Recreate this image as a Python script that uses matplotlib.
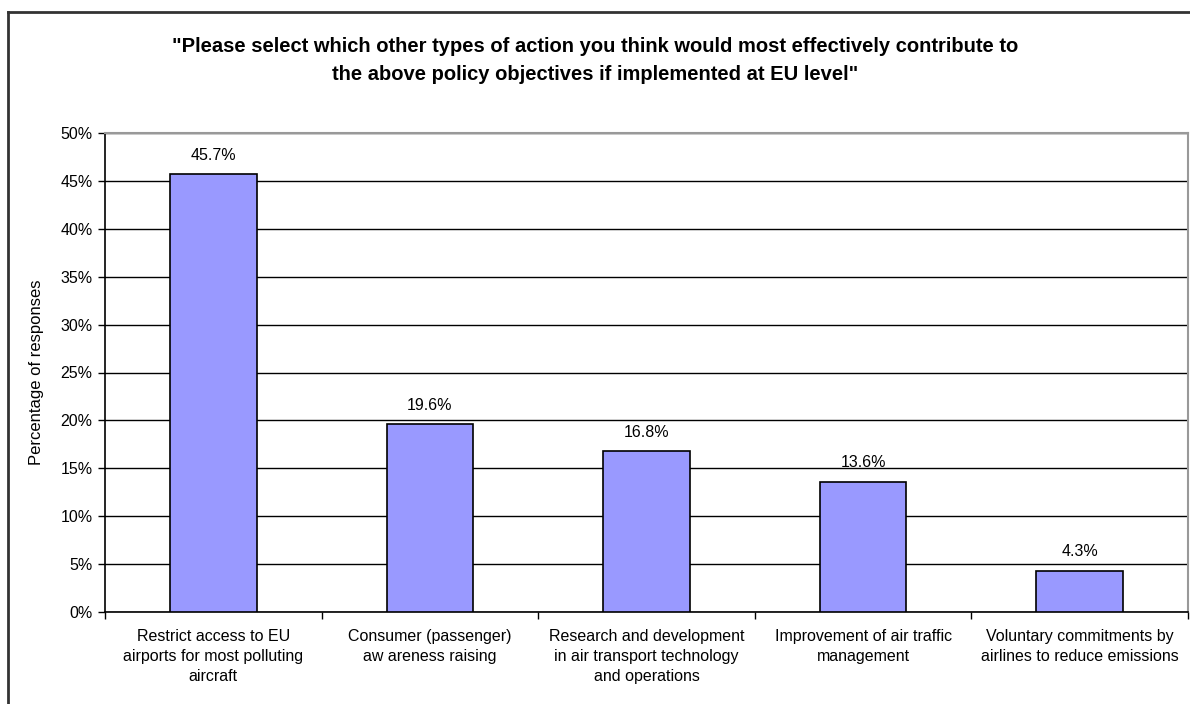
import matplotlib.pyplot as plt
from matplotlib.lines import Line2D
import numpy as np

plt.rcParams['font.family'] = ['Liberation Sans', 'DejaVu Sans']

categories = [
    "Restrict access to EU\nairports for most polluting\naircraft",
    "Consumer (passenger)\naw areness raising",
    "Research and development\nin air transport technology\nand operations",
    "Improvement of air traffic\nmanagement",
    "Voluntary commitments by\nairlines to reduce emissions",
]
values = [45.7, 19.6, 16.8, 13.6, 4.3]
value_labels = ["45.7%", "19.6%", "16.8%", "13.6%", "4.3%"]
yticks = [0, 5, 10, 15, 20, 25, 30, 35, 40, 45, 50]
title = ('"Please select which other types of action you think would most effectively contribute to\n'
         'the above policy objectives if implemented at EU level"')

fig = plt.figure(figsize=(11.9, 7.04), dpi=100)
ax = fig.add_axes([105 / 1190, 92 / 704, 1083 / 1190, 479 / 704])

x = np.arange(len(values))
ax.bar(x, values, width=0.4, color='#9999FF', edgecolor='black', linewidth=1.2, zorder=3)

for xi, v, lab in zip(x, values, value_labels):
    ax.text(xi, v + 1.2, lab, ha='center', va='bottom', fontsize=11.5)

ax.set_xlim(-0.5, len(values) - 0.5)
ax.set_ylim(0, 50)
ax.set_yticks(yticks)
ax.set_yticklabels([f"{t}%" for t in yticks], fontsize=11.5)
ax.yaxis.grid(True, color='black', linewidth=1, zorder=0)

ax.set_xticks(x)
ax.set_xticklabels(categories, fontsize=11.5, linespacing=1.45)
ax.tick_params(axis='x', which='major', length=0, pad=12)
ax.set_xticks(np.arange(-0.5, len(values), 1.0), minor=True)
ax.tick_params(axis='x', which='minor', length=5, direction='out', width=1)
ax.tick_params(axis='y', length=5, direction='out', width=1, pad=4)

ax.set_ylabel("Percentage of responses", fontsize=12, labelpad=12)

for s in ['left', 'bottom']:
    ax.spines[s].set_color('black')
    ax.spines[s].set_linewidth(1.2)
for s in ['top', 'right']:
    ax.spines[s].set_color('#999999')
    ax.spines[s].set_linewidth(1.5)

fig.text(0.5, 1 - 61 / 704, title, ha='center', va='center', fontsize=14.5,
         fontweight='bold', linespacing=1.6)

# outer chart frame (right and bottom run off the picture)
fig.add_artist(Line2D([8 / 1190, 1.0], [1 - 12 / 704, 1 - 12 / 704], color='#333333', linewidth=2))
fig.add_artist(Line2D([8 / 1190, 8 / 1190], [0, 1 - 12 / 704], color='#333333', linewidth=2))

fig.savefig('out.png', dpi=100)
